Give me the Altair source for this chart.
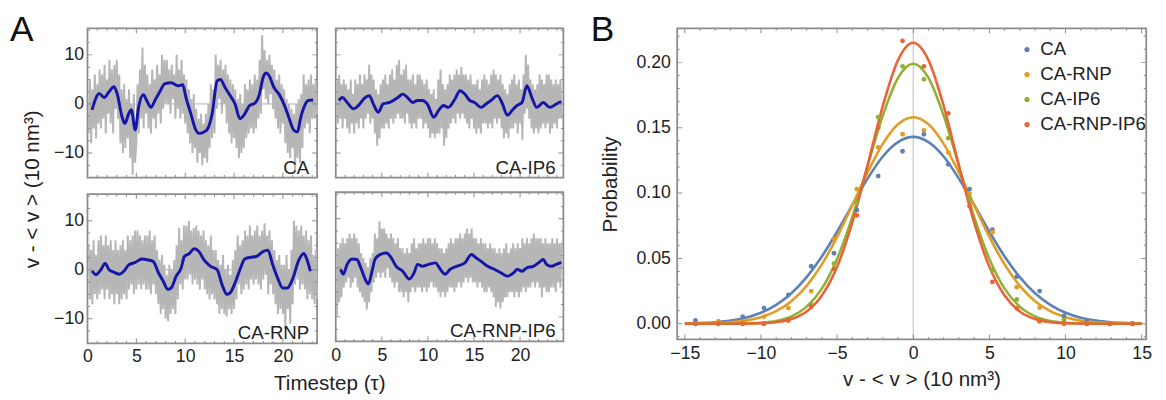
import altair as alt
import pandas as pd

FONT = "Liberation Sans"
TXT = "#222222"
FRAME = "#8c8c8c"
GRAY = "#b6b6b6"
BLUE = "#1616a6"
ZERO = "#9a9a9a"
LAB = 18     # tick label size
NAME = 19    # panel / legend label size
TITLE = 21   # axis title size

# ---------------- Panel A data ----------------
STEP = 0.125  # timestep spacing of the raw traces

ca_raw = [-6, 5, -8, 3, -5, 6, -7, 4,
          -4, 7, -5, 6, -3, 8, -6, 5,
          -2, 9, -4, 7, -6, 8, -1, 9,
          -3, 6, -8, 3, -10, 4, -9, 1,
          -7, 3, -11, 0, -14.5, 2, -12, -8,
          4, -6, 7, -3, 11.5, -5, 8, -2,
          6, -5, 4, -6, 7, -3, 5, -5,
          8, -2, 6, -4, 10, -1, 9, 0,
          9, 0, 7, -2, 8, 1, 6, -3,
          10, -1, 7, -3, 9, -2, 6, -4,
          5, -6, 3, -8, 1, -10, 2, -9,
          -1, -12, -3, -10, -2, -12.5, -4, -11,
          -2, -12, 0, -9, 4, -7, 3, -6,
          10, -1, 8, 1, 9, -2, 7, 0,
          8, -4, 6, -6, 5, -8, 4, -7,
          3, -9, 1, -11, 2, -10, 0, -9,
          4, -7, 3, -6, 5, -5, 4, -6,
          6, -5, 5, -3, 9, -2, 14, 3,
          11, 1, 9, 0, 10, 2, 8, -1,
          7, -3, 5, -5, 6, -6, 4, -4,
          3, -8, 1, -10, 0, -11, -1, -9,
          -2, -13.5, 0, -11, 1, -12, 2, -9,
          6, -5, 4, -4, 5, -6, 6, -3,
          4, -3, 5, -2]
ca_bt = [0.47, 1.21, 1.71, 2.21, 2.71, 3.05, 3.55, 3.82, 4.22, 4.49, 4.89, 5.23, 5.73, 6.06, 6.5,
         6.9, 7.4, 7.9, 8.58, 9.25, 9.75, 10.08, 10.58, 11.09, 11.42, 11.93, 12.26, 12.76, 13.27, 13.6,
         14.1, 14.6, 15.1, 15.6, 16.1, 16.6, 17.1, 17.6, 17.96, 18.3, 18.6, 19.1, 19.6, 20.1, 20.6,
         21.1, 21.5, 21.8, 22.1, 22.6, 23.1]
ca_bv = [-1.2, 2.1, 1.3, 2.5, 3.5, 2.0, -2.7, -4.0, -2.0, -1.2, -5.3, -0.7, 1.9, 0.7, -0.7,
         0.7, 2.5, 4.1, 4.3, 3.7, 3.9, 1.3, -2.0, -5.3, -6.0, -5.7, -5.2, -2.0, 4.7, 5.0,
         3.3, 1.7, 0.0, -3.0, -2.0, -0.3, 0.1, 2.0, 5.3, 6.3, 5.7, 3.3, 2.0, 0.0, -2.7,
         -5.3, -5.7, -3.0, -1.0, 0.7, 0.8]

ip6_raw = [5, -4, 6, -3, 4, -5, 5, -3,
           4, -5, 3, -6, 5, -4, 2, -6,
           5, -4, 4, -5, 6, -3, 4, -5,
           6, -3, 5, -2, 8, -4, 6, -3,
           5, -6, 3, -8.5, 2, -7, 4, -5,
           5, -5, 6, -4, 4, -5, 6, -3,
           7, -4, 5, -3, 8, -2, 9, -3,
           6, -3, 7, -4, 8, -2, 5, -4,
           5, -5, 6, -4, 4, -5, 6, -3,
           6, -3, 5, -5, 4, -4, 5, -5,
           3, -7, 2, -6, 3, -7, 1, -6,
           5, -6, 7, -5, 4, -8.5, 3, -7,
           4, -5, 6, -4, 5, -3, 6, -4,
           7, -2, 6, -3, 7.5, -2, 6, -3,
           6, -4, 5, -5, 6, -3, 4, -5,
           4, -6, 5, -5, 3, -6, 5, -4,
           6, -4, 5, -5, 4, -4, 6, -5,
           7, -3, 6, -4, 5, -3, 6, -5,
           4, -7, 3, -6, 2, -7, 4, -5,
           5, -5, 6, -4, 4, -6, 5, -4,
           3, -7.3, 6, -2, 10, -1, 8, -3,
           5, -5, 4, -6, 3, -5, 4, -6,
           6, -5, 5, -4, 4, -5, 6, -4,
           6, -6, 5, -5, 4, -4, 5, -5,
           4, -3, 5, -3]
ip6_bt = [0.35, 0.71, 1.24, 1.95, 2.48, 3.19, 3.65, 4.08, 4.61, 5.14, 5.85, 6.74, 7.27, 7.8, 8.33,
          8.87, 9.4, 9.93, 10.64, 11.17, 11.7, 12.23, 12.94, 13.48, 14.01, 14.54, 15.07, 15.78, 16.31, 16.84,
          17.55, 18.09, 18.62, 19.15, 19.68, 20.21, 20.74, 21.28, 21.81, 22.52, 23.23, 23.94, 24.47]
ip6_bv = [0.7, 1.3, 0.3, -1.0, -0.3, 1.3, 1.7, 0.0, -1.7, 0.0, 0.3, 1.3, 2.0, 1.3, 0.3,
          0.7, 0.7, 0.0, -2.7, -1.3, -0.3, -0.7, 1.0, 2.7, 2.0, 0.7, 0.3, -0.7, 0.0, 0.7,
          1.7, 0.0, -2.3, -1.3, -0.3, 0.3, 3.7, 1.3, -0.7, 0.3, -0.7, 0.0, 0.5]

rnp_raw = [5, -6, 4, -7, 6, -5, 3, -6,
           6, -5, 7, -4, 5, -6, 7, -4,
           5, -6, 6, -5, 4, -7, 6, -5,
           4, -7, 5, -6, 6, -5, 4, -6,
           7, -4, 6, -3, 7, -5, 8, -4,
           8, -3, 7, -4, 6, -3, 7, -4,
           7, -4, 8, -5, 6, -3, 7, -5,
           4, -7, 2, -9, 3, -8, 1, -10,
           -1, -10.5, 1, -9, 0, -8, 2, -9,
           5, -6, 8.5, -3, 6, -4, 9, -2,
           9, -2, 10, -1, 8, -3, 8.5, -2,
           9, -3, 8, -4, 7, -2, 8, -4,
           6, -5, 5, -6, 7, -5, 4, -6,
           4, -7, 2, -9, 1, -8, 3, -9,
           0, -9.5, 1, -8, -1, -9, 2, -8,
           4, -6, 7, -3, 5, -5, 6, -4,
           8, -3, 7, -4, 9, -2, 7, -3,
           8, -2, 9, -3, 7, -4, 8, -2,
           9.5, -1, 7, -5, 8, -3, 6, -5,
           4, -7, 2, -9, 3, -8, 1, -9,
           1, -12, 3, -8, 0, -11, 4, -7,
           10, -3, 9, -2, 8, -4, 9, -3,
           7, -4, 8, -6, 6, -5, 7, -6,
           3, -7, 4, -6]
rnp_bt = [0.47, 0.87, 1.37, 1.81, 2.21, 2.71, 3.22, 3.72, 4.22, 4.89, 5.56, 6.23, 6.73, 7.24, 7.74,
          8.24, 8.58, 9.08, 9.58, 9.92, 10.42, 10.92, 11.42, 11.93, 12.6, 13.27, 13.77, 14.27, 14.6, 15.1,
          15.6, 16.1, 16.6, 17.29, 17.96, 18.46, 18.96, 19.46, 19.97, 20.47, 20.97, 21.64, 22.14, 22.48, 22.81]
rnp_bv = [-0.2, -1.0, 0.0, 1.3, 0.0, -0.5, -0.9, -0.3, 1.0, 1.5, 2.2, 2.0, 1.7, -0.5, -2.3,
          -4.0, -3.7, -1.3, 0.3, 2.7, 3.3, 4.3, 3.7, 2.0, 0.7, 0.0, -3.0, -5.0, -4.7, -2.7,
          0.0, 2.2, 2.5, 2.7, 3.7, 4.0, 1.0, -1.7, -3.7, -3.7, -2.0, 2.0, 3.3, 2.0, -0.3]

rnpip6_raw = [-10, 4, -7, 5, -6, 6, -4, 5,
              -3, 6, -2, 7, -4, 6, -3, 7,
              -2, 6, -4, 5, -5, 3, -6, 2,
              -7, 1, -8.5, 0, -7, 2, -5, 3,
              -3, 7, -2, 6, -1, 9.5, -2, 8,
              -1, 8, -2, 7, 0, 6, -2, 7,
              -3, 6, -4, 5, -3, 6, -5, 4,
              -5, 4, -6, 3, -5, 4, -7, 3,
              -5, 5, -4, 6, -5, 4, -4, 5,
              -4, 5, -5, 6, -4, 5, -5, 6,
              -4, 6, -3, 5, -4, 6, -4, 5,
              -5, 4, -6, 4, -5, 3, -6, 4,
              -5, 5, -4, 6, -4, 5, -5, 6,
              -4, 6, -3, 7, -4, 6, -3, 7,
              -2, 8, -3, 7, -2, 8, -3, 6,
              -3, 6, -4, 5, -3, 6, -4, 5,
              -5, 5, -5, 4, -4, 5, -5, 4,
              -6, 4, -8, 3, -7, 4, -8.3, 3,
              -7, 4, -6, 5, -6, 3, -5, 4,
              -5, 5, -6, 4, -5, 5, -6, 4,
              -5, 6, -4, 5, -5, 6, -4, 5,
              -4, 6, -3, 7, -4, 6, -3, 6,
              -4, 6, -6, 5, -4, 6, -5, 5,
              -5, 5, -4, 6, -4, 5, -5, 6,
              -3, 5, -4, 5]
rnpip6_bt = [0.53, 0.82, 1.24, 1.77, 2.3, 2.66, 3.19, 3.55, 3.9, 4.26, 4.79, 5.5, 6.03, 6.56, 7.27,
             7.98, 8.51, 8.87, 9.4, 10.1, 10.82, 11.35, 11.88, 12.41, 13.12, 14.01, 14.72, 15.25, 15.78, 16.49,
             17.2, 17.91, 18.62, 19.33, 19.68, 20.21, 20.74, 21.45, 21.99, 22.52, 22.87, 23.4, 23.94, 24.47]
rnpip6_bv = [-0.3, -1.3, 0.7, 1.8, 1.7, 0.3, -2.3, -3.3, -1.0, 1.7, 2.7, 3.0, 2.0, 0.3, -0.7,
             -2.3, -1.0, 0.7, 0.3, 0.7, 1.0, -0.3, -1.3, -0.3, 0.3, 1.0, 2.7, 2.0, 1.3, 0.3,
             -0.3, -1.0, -1.7, -1.0, -0.3, -0.7, 0.0, 0.3, 1.0, 1.7, 0.7, 0.3, 0.7, 1.1]

A_XLABELS = [0, 5, 10, 15, 20]
A_YLABELS = [-10, 0, 10]
A_YMINOR = [-15, -12.5, -7.5, -5, -2.5, 2.5, 5, 7.5, 12.5, 15]

# ---------------- Panel B data ----------------
SERIES = ["CA", "CA-RNP", "CA-IP6", "CA-RNP-IP6"]
COLORS = ["#5e81b5", "#e19c24", "#8fb032", "#eb6235"]

bins = [-14.3, -12.8, -11.2, -9.8, -8.2, -6.7, -5.2, -3.7, -2.3, -0.7,
        0.7, 2.3, 3.7, 5.2, 6.8, 8.3, 9.9, 11.4, 12.9, 14.4]
p_ca = [0.0025, 0.001, 0.0055, 0.012, 0.022, 0.044, 0.054, 0.087, 0.113, 0.132,
        0.145, 0.122, 0.103, 0.072, 0.036, 0.025, 0.006, 0.0015, 0.0, 0.0]
p_rnp = [0.0, 0.002, 0.001, 0.0055, 0.012, 0.025, 0.065, 0.103, 0.135, 0.145,
         0.148, 0.131, 0.0995, 0.070, 0.028, 0.0123, 0.001, 0.0, 0.0, 0.0]
p_ip6 = [0.0, 0.0, 0.0, 0.0, 0.003, 0.015, 0.046, 0.092, 0.158, 0.197,
         0.187, 0.142, 0.096, 0.041, 0.0186, 0.002, 0.003, 0.0, 0.0, 0.0]
p_rnpip6 = [0.0, 0.0, 0.0, 0.0, 0.0025, 0.013, 0.042, 0.083, 0.150, 0.2165,
            0.197, 0.161, 0.090, 0.032, 0.0118, 0.002, 0.0, 0.0, 0.0, 0.0]

fit_x = [-15, -14, -13, -12, -11, -10, -9, -8, -7, -6, -5, -4, -3, -2, -1, 0,
         1, 2, 3, 4, 5, 6, 7, 8, 9, 10, 11, 12, 13, 14, 15]
fit_ca = [0.0002, 0.0006, 0.0012, 0.0024, 0.0046, 0.0084, 0.0144, 0.0233, 0.0357, 0.0515, 0.0704,
          0.0909, 0.111, 0.128, 0.139, 0.143, 0.139, 0.128, 0.111, 0.0909, 0.0704, 0.0515, 0.0357,
          0.0233, 0.0144, 0.0084, 0.0046, 0.0024, 0.0012, 0.0006, 0.0002]
fit_rnp = [0.0001, 0.0002, 0.0005, 0.0011, 0.0024, 0.005, 0.0096, 0.0172, 0.029, 0.0454, 0.0665,
           0.0908, 0.1157, 0.1376, 0.1526, 0.158, 0.1526, 0.1376, 0.1157, 0.0908, 0.0665, 0.0454,
           0.029, 0.0172, 0.0096, 0.005, 0.0024, 0.0011, 0.0005, 0.0002, 0.0001]
fit_ip6 = [0, 0, 0, 0.0001, 0.0002, 0.0008, 0.0022, 0.0057, 0.0131, 0.0269, 0.0496, 0.0818, 0.1207,
           0.1593, 0.1882, 0.199, 0.1882, 0.1593, 0.1207, 0.0818, 0.0496, 0.0269, 0.0131, 0.0057,
           0.0022, 0.0008, 0.0002, 0.0001, 0, 0, 0]
fit_rnpip6 = [0, 0, 0, 0, 0.0001, 0.0004, 0.0012, 0.0036, 0.0094, 0.0216, 0.0436, 0.0775, 0.1211,
              0.1666, 0.2017, 0.215, 0.2017, 0.1666, 0.1211, 0.0775, 0.0436, 0.0216, 0.0094, 0.0036,
              0.0012, 0.0004, 0.0001, 0, 0, 0, 0]

B_XLABELS = [-15, -10, -5, 0, 5, 10, 15]
B_YLABELS = [0.0, 0.05, 0.10, 0.15, 0.20]
B_XMINOR = [v for v in range(-15, 16) if v % 5 != 0]
B_YMINOR = [-0.01, 0.01, 0.02, 0.03, 0.04, 0.06, 0.07, 0.08, 0.09, 0.11, 0.12, 0.13, 0.14,
            0.16, 0.17, 0.18, 0.19, 0.21, 0.22]

# ---------------- helpers ----------------
H_A = 152
W_L = 234
W_R = 232
W_B = 478
H_B = 317
MAJOR = 10   # tick length (half of it shows inside the frame)
MINOR = 5


def frame_ticks(xs, ys, xmaj, xmin, ymaj, ymin, w, h):
    xdf = pd.DataFrame({"v": xmaj + xmin, "len": [MAJOR] * len(xmaj) + [MINOR] * len(xmin)})
    ydf = pd.DataFrame({"v": ymaj + ymin, "len": [MAJOR] * len(ymaj) + [MINOR] * len(ymin)})
    mk = dict(color=FRAME, thickness=1, clip=True, opacity=1)
    sz = alt.Size("len:Q", scale=None, legend=None)
    out = []
    for yv in (0, h):
        out.append(alt.Chart(xdf).mark_tick(orient="vertical", **mk).encode(
            x=alt.X("v:Q", scale=xs, axis=None), y=alt.value(yv), size=sz))
    for xv in (0, w):
        out.append(alt.Chart(ydf).mark_tick(orient="horizontal", **mk).encode(
            y=alt.Y("v:Q", scale=ys, axis=None), x=alt.value(xv), size=sz))
    return out


def lab_axis(orient, values, pad, fmt=None, **kw):
    args = dict(orient=orient, values=values, ticks=False, tickSize=0, domain=False, grid=False,
                labelPadding=pad, labelFont=FONT, labelFontSize=LAB, labelColor=TXT,
                labelOverlap=False)
    if orient == "bottom":
        args["labelFlush"] = False
    if fmt:
        args["format"] = fmt
    args.update(kw)
    if "title" not in args:
        args["title"] = None
    return alt.Axis(**args)


def letter(ch, x, opacity=1.0):
    return alt.Chart(pd.DataFrame({"s": [ch]})).mark_text(
        align="left", baseline="alphabetic", font=FONT, fontSize=36, color="#111111",
        opacity=opacity).encode(text="s:N", x=alt.value(x), y=alt.value(13))


def a_panel(raw, bt, bv, name, w, xmax, show_y, show_x, extra=()):
    xs = alt.Scale(domain=[0, xmax], nice=False, zero=False)
    ys = alt.Scale(domain=[-15, 15.4], nice=False, zero=False)
    xmin = [v for v in range(0, int(xmax) + 1) if v % 5 != 0]
    raw_df = pd.DataFrame({"t": [round(STEP * (i + 1), 3) for i in range(len(raw))], "v": raw})
    blue_df = pd.DataFrame({"t": bt, "v": bv})
    x_lab = lab_axis("bottom", A_XLABELS, 5) if show_x else None
    y_lab = lab_axis("left", A_YLABELS, 4) if show_y else None
    zero = alt.Chart(pd.DataFrame({"v": [0]})).mark_rule(color=ZERO, strokeWidth=0.8).encode(
        y=alt.Y("v:Q", scale=ys, axis=None))
    gray = alt.Chart(raw_df).mark_line(color=GRAY, strokeWidth=2.0).encode(
        x=alt.X("t:Q", scale=xs, axis=x_lab), y=alt.Y("v:Q", scale=ys, axis=y_lab))
    blue = alt.Chart(blue_df).mark_line(color=BLUE, strokeWidth=3, interpolate="monotone").encode(
        x=alt.X("t:Q", scale=xs, axis=None), y=alt.Y("v:Q", scale=ys, axis=None))
    label = alt.Chart(pd.DataFrame({"s": [name]})).mark_text(
        align="right", baseline="alphabetic", font=FONT, fontSize=NAME, color=TXT).encode(
        text="s:N", x=alt.value(w - 8), y=alt.value(H_A - 4))
    ticks = frame_ticks(xs, ys, A_XLABELS, xmin, A_YLABELS, A_YMINOR, w, H_A)
    layers = [zero, gray, blue, label] + ticks + list(extra)
    return alt.layer(*layers).resolve_axis(x="independent", y="independent").properties(
        width=w, height=H_A)


TL = a_panel(ca_raw, ca_bt, ca_bv, "CA", W_L, 23.5, True, False, extra=[letter("A", -79)])
TR = a_panel(ip6_raw, ip6_bt, ip6_bv, "CA-IP6", W_R, 24.7, False, False,
             extra=[letter("A", 10, opacity=0)])
BL = a_panel(rnp_raw, rnp_bt, rnp_bv, "CA-RNP", W_L, 23.5, True, True)
BR = a_panel(rnpip6_raw, rnpip6_bt, rnpip6_bv, "CA-RNP-IP6", W_R, 24.7, False, True)

# ---------------- Panel B ----------------
xsB = alt.Scale(domain=[-15.5, 15.3], nice=False, zero=False)
ysB = alt.Scale(domain=[-0.012, 0.226], nice=False, zero=False)
cscale = alt.Scale(domain=SERIES, range=COLORS)

pts_df = pd.concat([pd.DataFrame({"x": bins, "p": vals, "series": s})
                    for s, vals in zip(SERIES, [p_ca, p_rnp, p_ip6, p_rnpip6])])
fit_df = pd.concat([pd.DataFrame({"x": fit_x, "p": vals, "series": s})
                    for s, vals in zip(SERIES, [fit_ca, fit_rnp, fit_ip6, fit_rnpip6])])

vline = alt.Chart(pd.DataFrame({"x": [0]})).mark_rule(color="#a8a8a8", strokeWidth=0.8).encode(
    x=alt.X("x:Q", scale=xsB, axis=None))
curves = alt.Chart(fit_df).mark_line(strokeWidth=2.6, interpolate="monotone").encode(
    x=alt.X("x:Q", scale=xsB, axis=lab_axis(
        "bottom", B_XLABELS, 5, title="v - < v > (10 nm³)", titleFont=FONT, titleFontSize=TITLE,
        titleFontWeight="normal", titleColor=TXT, titlePadding=7, titleX=249)),
    y=alt.Y("p:Q", scale=ysB, axis=lab_axis(
        "left", B_YLABELS, 7, fmt=".2f", title="Probability", titleFont=FONT, titleFontSize=TITLE,
        titleFontWeight="normal", titleColor=TXT, titlePadding=16)),
    color=alt.Color("series:N", scale=cscale, legend=None))
points = alt.Chart(pts_df).mark_circle(size=24, opacity=1).encode(
    x=alt.X("x:Q", scale=xsB, axis=None),
    y=alt.Y("p:Q", scale=ysB, axis=None),
    color=alt.Color("series:N", scale=cscale, legend=alt.Legend(
        orient="none", legendX=347, legendY=12, title=None, labelFont=FONT, labelFontSize=NAME,
        labelColor=TXT, symbolType="circle", symbolSize=28, rowPadding=5.5, labelOffset=4,
        symbolStrokeWidth=0)))
ticksB = frame_ticks(xsB, ysB, B_XLABELS, B_XMINOR, B_YLABELS, B_YMINOR, W_B, H_B)
B = alt.layer(vline, curves, points, *ticksB, letter("B", -88)).resolve_axis(
    x="independent", y="independent").resolve_legend(color="independent").properties(
    width=W_B, height=H_B)

# ---------------- layout ----------------
col1 = alt.vconcat(TL, BL, spacing=13).properties(title=alt.TitleParams(
    "v - < v > (10 nm³)", orient="left", anchor="middle", font=FONT, fontSize=TITLE,
    fontWeight="normal", color=TXT, offset=-35))
col2 = alt.vconcat(TR, BR, spacing=13)
A = alt.hconcat(col1, col2, spacing=8).properties(title=alt.TitleParams(
    "Timestep (τ)", orient="bottom", anchor="middle", font=FONT, fontSize=TITLE,
    fontWeight="normal", color=TXT, dx=42, offset=7))
Bw = alt.vconcat(B)

chart = alt.hconcat(A, Bw, spacing=22).properties(
    padding={"left": 1, "top": 0, "right": 5, "bottom": 5}
).configure_view(stroke=FRAME, strokeWidth=1.8).configure_axis(minExtent=0)

chart.save("out.html", embed_options={"renderer": "svg", "actions": False})
